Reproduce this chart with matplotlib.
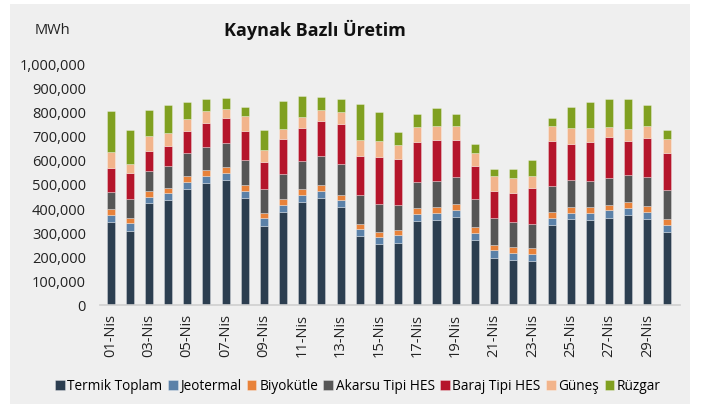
import matplotlib
matplotlib.use("Agg")
import matplotlib.pyplot as plt
from matplotlib.patches import Rectangle
from matplotlib.ticker import FuncFormatter
import numpy as np

plt.rcParams['font.family'] = ['Open Sans', 'DejaVu Sans']

days = [f"{d:02d}-Nis" for d in range(1, 31)]
series_names = ["Termik Toplam", "Jeotermal", "Biyokütle", "Akarsu Tipi HES",
                "Baraj Tipi HES", "Güneş", "Rüzgar"]

termik = [344, 307, 420, 435, 481, 504, 518, 443, 328, 384,
          426, 441, 404, 285, 251, 257, 347, 352, 365, 270,
          195, 185, 182, 331, 355, 351, 361, 373, 354, 303]
jeotermal = [29, 31, 28, 26, 27, 29, 29, 29, 30, 29,
             30, 30, 29, 29, 30, 31, 28, 29, 29, 29,
             31, 31, 30, 28, 26, 30, 30, 29, 30, 29]
biyokutle = [22, 21, 22, 24, 25, 24, 23, 24, 23, 25,
             23, 24, 22, 22, 21, 22, 25, 24, 23, 23,
             23, 22, 22, 24, 24, 23, 22, 24, 25, 23]
akarsu = [73, 78, 84, 88, 94, 95, 98, 102, 97, 102,
          115, 122, 126, 119, 114, 103, 107, 109, 113, 117,
          112, 106, 99, 110, 110, 108, 111, 111, 119, 120]
baraj = [99, 107, 84, 83, 93, 100, 103, 120, 113, 146,
         137, 145, 166, 161, 197, 190, 168, 169, 151, 137,
         110, 119, 150, 186, 152, 163, 170, 142, 161, 152]
gunes = [64, 40, 60, 55, 49, 51, 39, 64, 48, 43,
         47, 45, 52, 67, 65, 58, 59, 55, 57, 53,
         63, 62, 50, 61, 64, 55, 42, 48, 49, 59]
ruzgar = [172, 140, 108, 117, 71, 47, 44, 35, 85, 115,
          84, 52, 52, 148, 118, 54, 55, 75, 50, 35,
          27, 36, 65, 31, 86, 108, 116, 124, 87, 36]

series = [termik, jeotermal, biyokutle, akarsu, baraj, gunes, ruzgar]
colors = ["#2c3e50", "#5b81a8", "#e8823a", "#565656", "#b5152b", "#f2b48b", "#80a020"]

fig = plt.figure(figsize=(7.02, 4.10), dpi=100, facecolor="white")
fig.patches.append(Rectangle((10/702, 5/410), 680/702, 400/410, transform=fig.transFigure,
                             facecolor="#efefef", edgecolor="none", zorder=-10))

ax = fig.add_axes([100/702, 104/410, 580/702, 242/410])
ax.set_facecolor("none")
ax.set_zorder(2)

x = np.arange(len(days))
bottom = np.zeros(len(days))
for name, vals, c in zip(series_names, series, colors):
    v = np.array(vals) * 1000
    ax.bar(x, v, 0.42, bottom=bottom, color=c, label=name,
           edgecolor=(1, 1, 1, 0.35), linewidth=0.6)
    bottom += v

ax.set_xlim(-0.55, 29.7)
ax.set_ylim(0, 1000000)
ax.set_yticks(np.arange(0, 1000001, 100000))
ax.yaxis.set_major_formatter(FuncFormatter(lambda v, p: f"{int(v):,}"))
ax.set_xticks(x[::2])
ax.set_xticklabels(days[::2], rotation=90)
ax.tick_params(axis="both", length=0, labelsize=10.5, colors="#222222")
ax.tick_params(axis="x", pad=6)
ax.tick_params(axis="y", pad=10)
for s in ["top", "right", "left"]:
    ax.spines[s].set_visible(False)
ax.spines["bottom"].set_color("#cfcfcf")
ax.spines["bottom"].set_linewidth(1.2)

fig.text(35/702, 1 - 30/410, "MWh", fontsize=10.5, va="center", ha="left", color="#222222")
fig.text(315/702, 1 - 30/410, "Kaynak Bazlı Üretim", fontsize=13, fontweight="bold",
         va="center", ha="center", color="#111111")

handles, labels = ax.get_legend_handles_labels()
leg = fig.legend(handles, labels, loc="center", bbox_to_anchor=(0.51, 1 - 387/410), ncol=7,
                 frameon=False, fontsize=9.8, handlelength=0.7, handleheight=0.7,
                 handletextpad=0.2, columnspacing=0.4)

fig.savefig("out.png", dpi=100, facecolor="white")
